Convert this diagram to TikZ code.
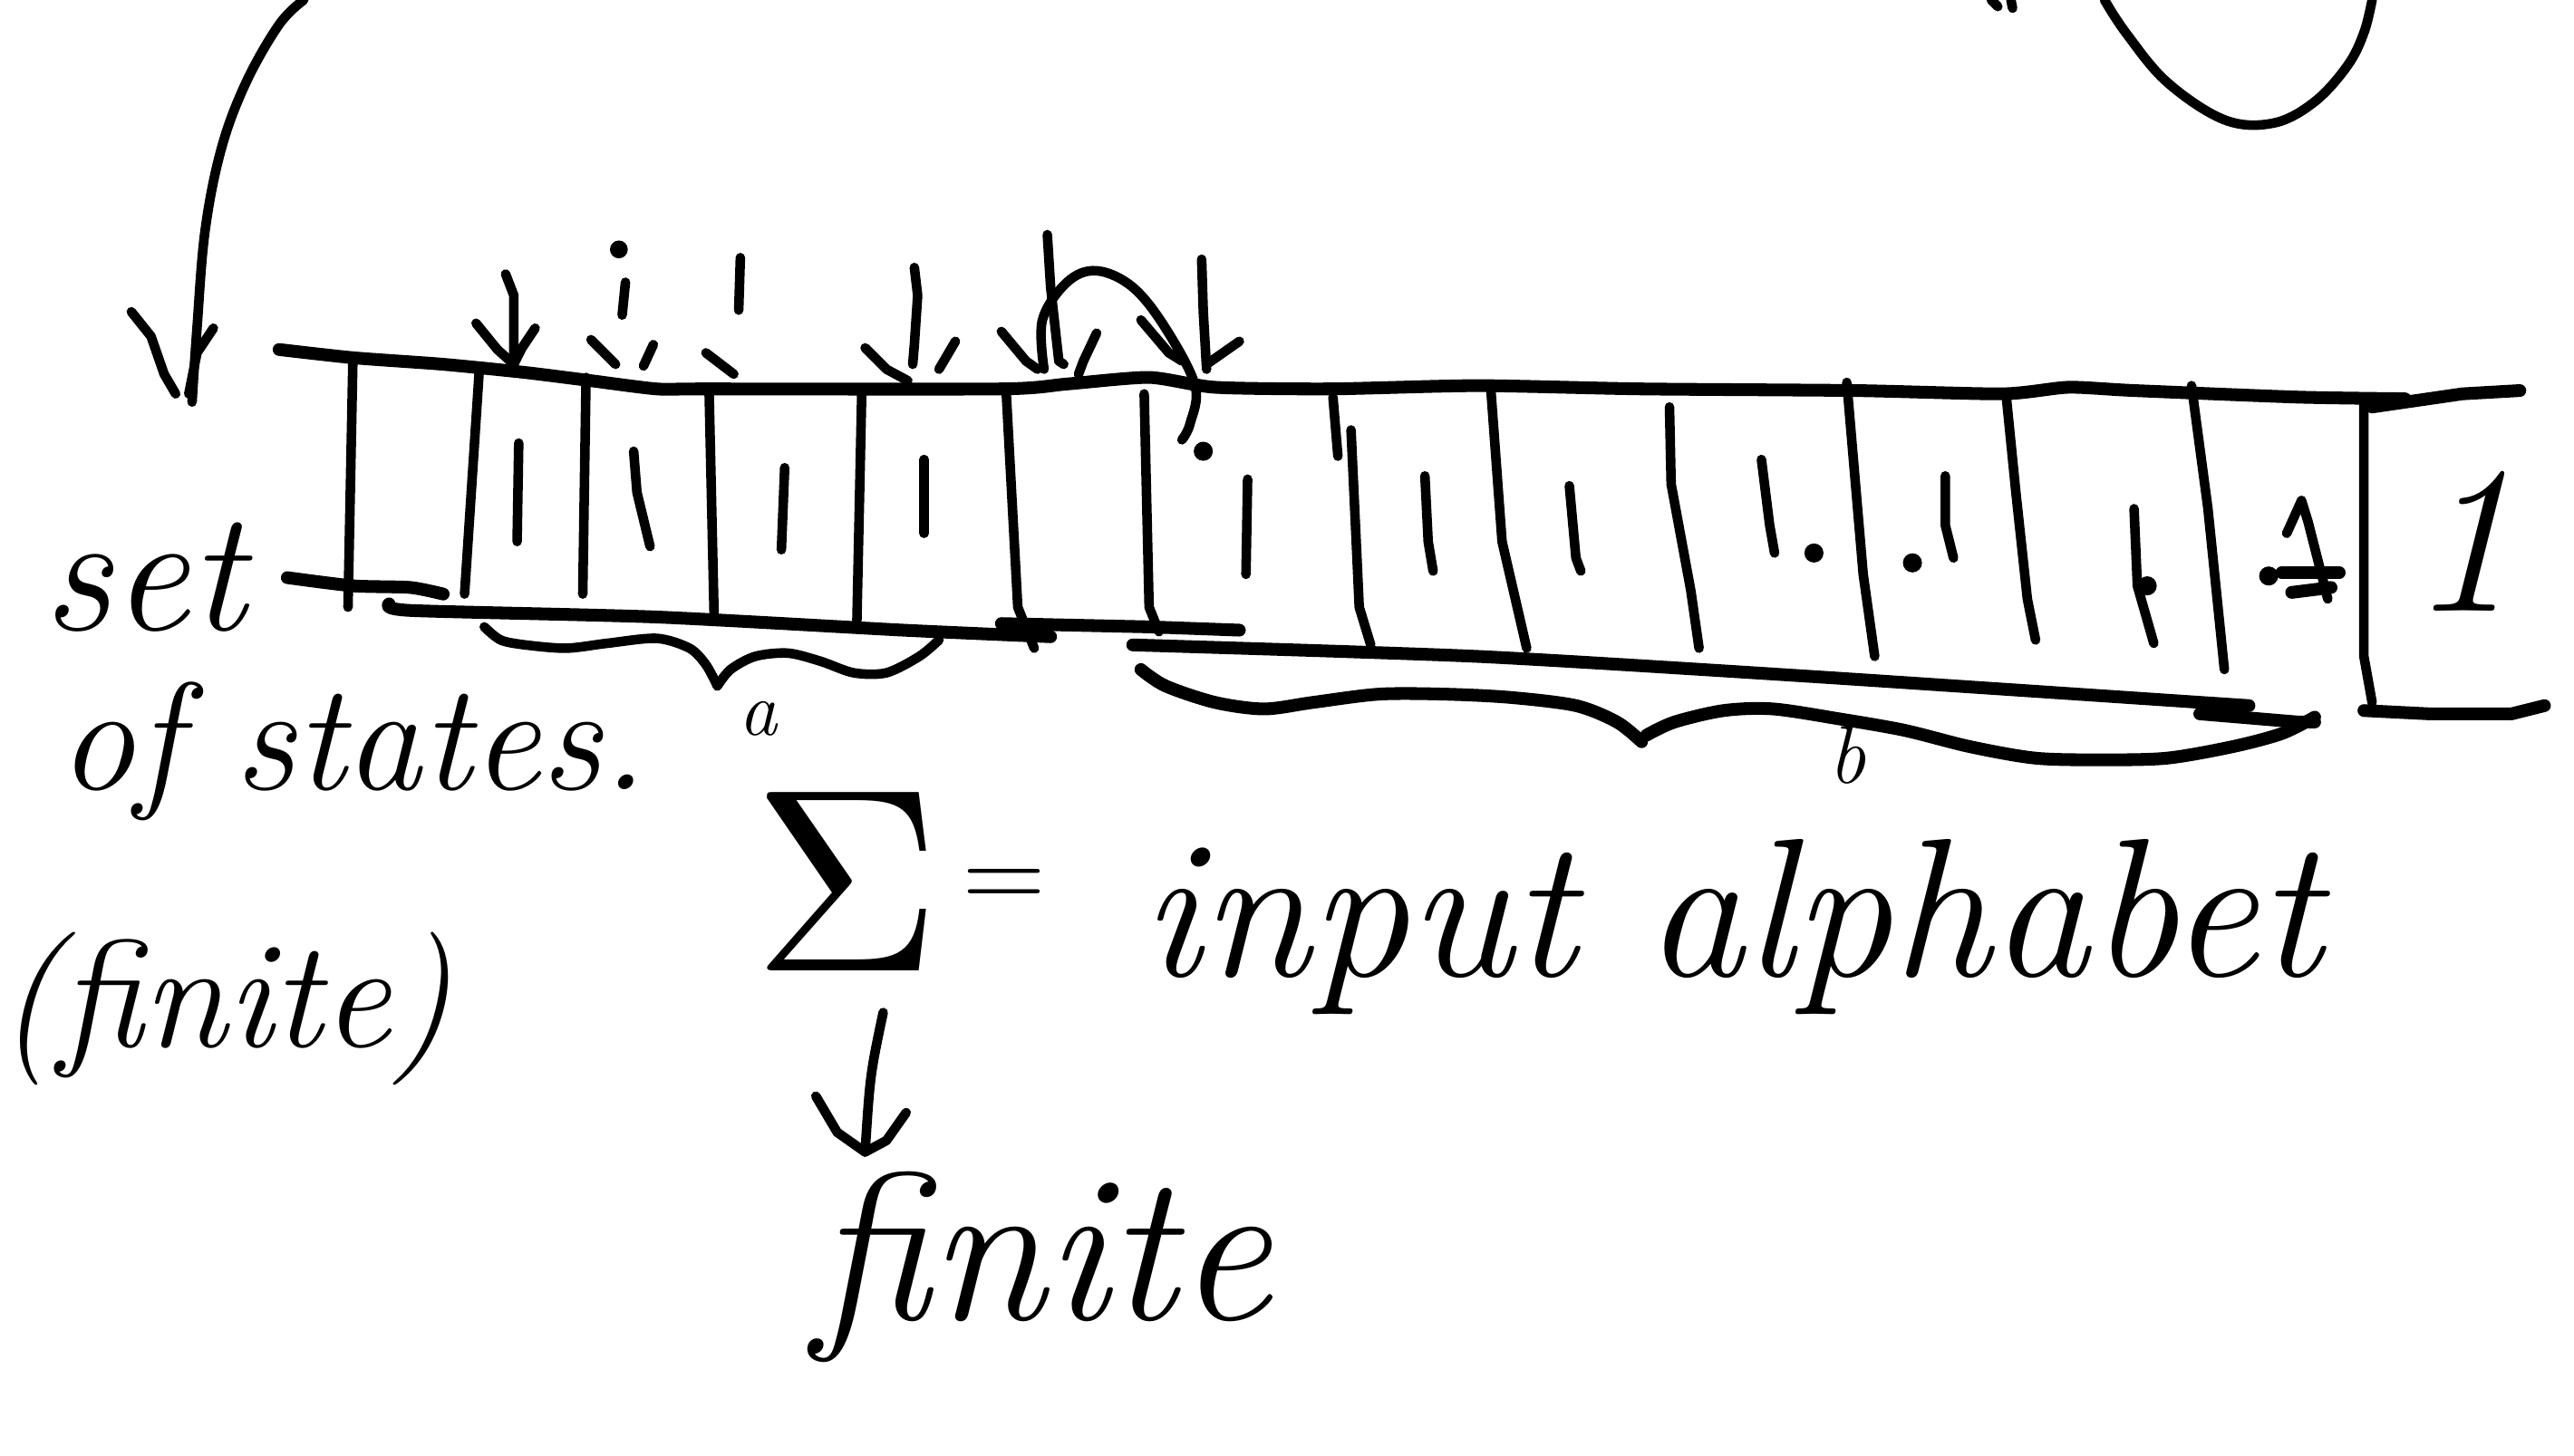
\documentclass[tikz,border=0pt]{standalone}
\usepackage{graphicx}
\begin{document}
\begin{tikzpicture}[x=0.01811cm,y=-0.01811cm,
  pen/.style={line width=3pt,line cap=round,line join=round},
  heavy/.style={line width=4pt,line cap=round,line join=round},
  dotmark/.style={fill=black},
  hand/.style={inner sep=0pt,anchor=center}]
\useasboundingbox (0,0) rectangle (1568,887);

% ---- tape: upper and lower edges
\draw[heavy] plot[smooth,tension=0.4] coordinates {(170,213)(215,218)(270,222)(320,227)(360,232)(400,237)(430,237)(610,237)(650,234)(700,230)(740,236)(810,237)(900,235)(1000,237)(1130,238)(1220,240)(1260,236)(1300,238)(1400,242)(1465,243)};
\draw[heavy] (1445,248) -- (1500,240) -- (1535,238);
\draw[heavy] plot[smooth,tension=0.4] coordinates {(175,352)(215,357)(250,358)(270,362)};
\draw[heavy] plot[smooth,tension=0.4] coordinates {(237,368)(250,372)(400,376)(550,384)(640,388)};
\draw[heavy] (610,380) -- (700,382) -- (755,384);
\draw[heavy] plot[smooth,tension=0.4] coordinates {(690,393)(900,400)(1100,412)(1340,428)(1370,430)};
\draw[heavy] (1340,435) -- (1400,440) -- (1410,440);
\draw[heavy] (1440,433) -- (1480,435) -- (1530,435) -- (1550,430);

% ---- cell walls
\draw[pen] (215,218) -- (212,370);
\draw[pen] (292,225) -- (283,362);
\draw[pen] (357,230) -- (355,362);
\draw[pen] (432,240) -- (435,375);
\draw[pen] (525,237) -- (522,378);
\draw[pen] (613,240) -- (620,370) -- (630,395);
\draw[pen] (697,240) -- (700,370) -- (706,385);
\draw[pen] (812,242) -- (815,278);
\draw[pen] (823,262) -- (828,370) -- (835,393);
\draw[pen] (908,235) -- (915,330) -- (930,395);
\draw[pen] (1017,248) -- (1018,295) -- (1030,360) -- (1035,395);
\draw[pen] (1125,233) -- (1135,350) -- (1142,400);
\draw[pen] (1222,240) -- (1228,300) -- (1235,365) -- (1240,390);
\draw[pen] (1335,235) -- (1345,310) -- (1355,408);
\draw[pen] (1440,243) -- (1440,290) -- (1440,400) -- (1445,428);

% ---- symbols inside the cells
\draw[pen] (316,270) -- (315,330);
\draw[pen] (386,275) -- (388,300) -- (396,333);
\draw[pen] (478,285) -- (476,335);
\draw[pen] (563,280) -- (563,325);
\draw[pen] (760,292) -- (759,350);
\fill[dotmark] (733,275) circle[radius=3pt];
\draw[pen] (868,290) -- (870,330) -- (873,348);
\draw[pen] (956,296) -- (960,340) -- (963,348);
\draw[pen] (1073,280) -- (1078,320) -- (1081,337);
\fill[dotmark] (1105,337) circle[radius=3pt];
\draw[pen] (1185,290) -- (1185,320) -- (1190,340);
\fill[dotmark] (1165,343) circle[radius=3pt];
\draw[pen] (1300,310) -- (1302,357) -- (1312,392);
\fill[dotmark] (1308,357) circle[radius=3pt];
\draw[pen] (1393,325) -- (1402,305) -- (1406,318) -- (1418,365);
\draw[heavy] (1390,349) -- (1425,349);
\draw[heavy] (1396,361) -- (1420,358);
\fill[dotmark] (1382,351) circle[radius=3pt];
\node[hand,font=\fontsize{66}{66}\selectfont\itshape] (one) at (1500,330) {1};

% ---- arrows pointing down onto the tape
\draw[pen] (308,167) -- (313,180) -- (313,222);
\draw[pen] (290,197) -- (303,213) -- (313,222) -- (318,212) -- (326,200);
\fill[dotmark] (377,152) circle[radius=2.8pt];
\draw[pen] (381,172) -- (379,192);
\draw[pen] (360,207) -- (375,222);
\draw[pen] (398,210) -- (392,223);
\draw[pen] (451,157) -- (450,189);
\draw[pen] (430,215) -- (447,228);
\draw[pen] (557,163) -- (559,180) -- (557,210) -- (556,222);
\draw[pen] (527,212) -- (540,225) -- (553,232);
\draw[pen] (582,208) -- (572,225);
\draw[pen] (638,143) -- (640,175) -- (645,220) -- (648,222);
\draw[pen] (610,202) -- (625,220) -- (632,225);
\draw[pen] (668,203) -- (660,220) -- (657,228);
\draw[pen] plot[smooth,tension=0.6] coordinates {(636,225)(635,195)(650,172)(668,165)(690,175)(710,200)(728,235)(725,258)(720,268)};
\draw[pen] (732,158) -- (733,190) -- (735,225);
\draw[pen] (695,195) -- (712,215) -- (720,220);
\draw[pen] (755,208) -- (745,215) -- (735,222);

% ---- long arrow from above onto the states label
\draw[pen] plot[smooth,tension=0.6] coordinates {(185,0)(170,15)(150,50)(135,90)(125,140)(120,200)(117,245)};
\draw[pen] (80,190) -- (92,205) -- (100,228) -- (107,240);
\draw[pen] (130,200) -- (120,215) -- (115,240);

% ---- loop at the upper right
\draw[pen] plot[smooth,tension=0.6] coordinates {(1282,0)(1295,20)(1320,50)(1355,73)(1385,75)(1410,62)(1430,40)(1440,20)(1445,0)};
\draw[pen] (1213,0) -- (1217,4);
\draw[pen] (1225,0) -- (1226,5);

% ---- braces under the tape
\draw[pen] plot[smooth,tension=0.5] coordinates {(295,382)(305,390)(320,393)(345,395)(370,392)(400,389)(420,395)(430,405)(437,418)};
\draw[pen] plot[smooth,tension=0.5] coordinates {(437,418)(445,408)(460,400)(480,398)(500,403)(520,410)(540,410)(560,400)(572,390)};
\node[hand,font=\fontsize{24}{24}\selectfont\itshape] (la) at (462,438) {a};
\draw[heavy] plot[smooth,tension=0.5] coordinates {(695,408)(710,418)(740,428)(770,432)(800,428)(840,423)(880,423)(920,425)(960,430)(985,440)(1000,452)};
\draw[heavy] plot[smooth,tension=0.5] coordinates {(1003,448)(1020,440)(1050,433)(1080,432)(1120,438)(1160,445)(1200,455)(1240,462)(1280,463)(1320,462)(1360,455)(1390,447)(1410,437)};
\node[hand,font=\fontsize{26}{26}\selectfont\itshape] (lb) at (1125,460) {b};

% ---- labels
\node[hand,font=\fontsize{54}{54}\selectfont\itshape] (set) at (88,352) {set};
\node[hand,font=\fontsize{48}{48}\selectfont\itshape] (states) at (215,458) {of states.};
\node[hand,font=\fontsize{48}{48}\selectfont\itshape] (fin1) at (137,615) {(finite)};
\node[inner sep=0pt] (sig) at (516,537) {\scalebox{8.2}{$\Sigma$}};
\node[inner sep=0pt,font=\fontsize{36}{36}\selectfont] (eq) at (612,542) {=};
\node[hand,font=\fontsize{62}{62}\selectfont\itshape] (alpha) at (1055,565) {input alphabet};
\node[hand,font=\fontsize{66}{66}\selectfont\itshape] (fin2) at (635,772) {finite};

% ---- arrow from the alphabet symbol to its remark
\coordinate (sa) at (538,617);
\coordinate (sb) at (527,702);
\draw[pen] (sa) .. controls (530,655) .. (sb);
\draw[pen] (497,668) -- (510,690) -- (sb) -- (540,695) -- (552,678);
\end{tikzpicture}
\end{document}
